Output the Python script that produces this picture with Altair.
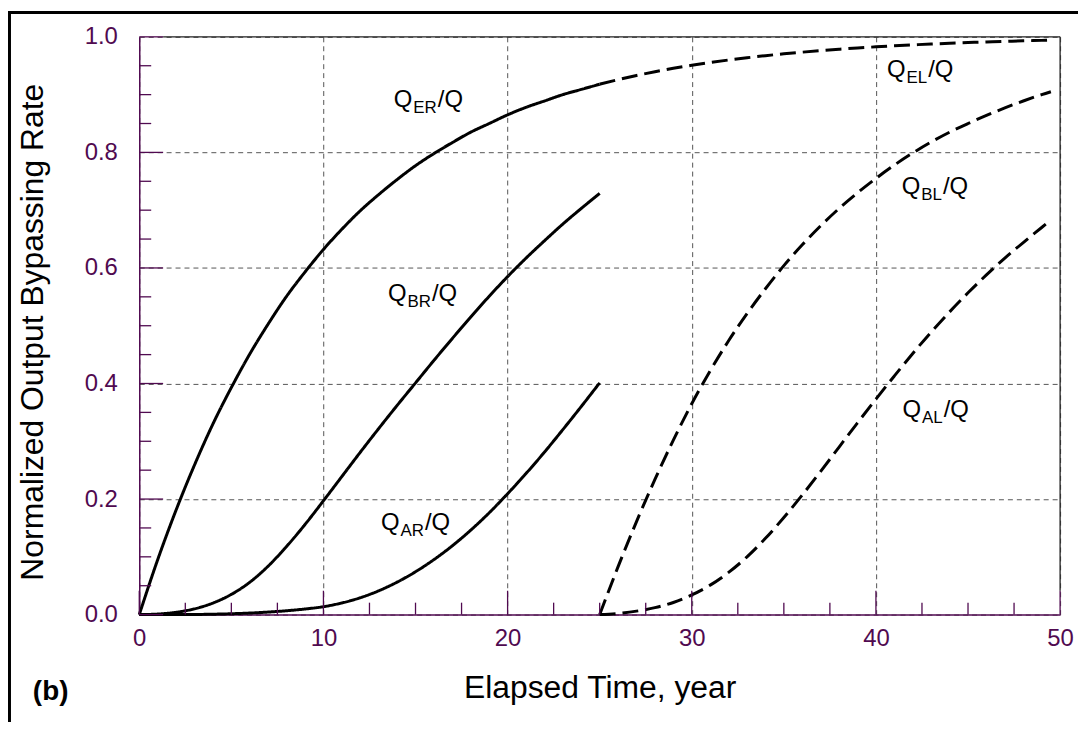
import altair as alt
import pandas as pd

# ---------------- data ----------------
t_R = list(range(0, 26))
E_R = [0.0, 0.095, 0.181, 0.259, 0.330, 0.393, 0.451, 0.503, 0.551, 0.593, 0.632,
       0.667, 0.699, 0.727, 0.753, 0.777, 0.798, 0.817, 0.835, 0.850, 0.865,
       0.878, 0.889, 0.900, 0.909, 0.918]
B_R = [0.0, 0.001, 0.004, 0.010, 0.020, 0.035, 0.056, 0.084, 0.118, 0.156, 0.197,
       0.239, 0.281, 0.322, 0.362, 0.401, 0.440, 0.478, 0.515, 0.551, 0.585,
       0.617, 0.647, 0.676, 0.703, 0.729]
A_R = [0.0, 0.0, 0.0, 0.0002, 0.0007, 0.0015, 0.0027, 0.0044, 0.0067, 0.0097, 0.0137,
       0.0202, 0.0292, 0.0412, 0.0562, 0.0742, 0.0952, 0.1192, 0.1462, 0.1762, 0.2092,
       0.2442, 0.2812, 0.3202, 0.3602, 0.4012]

t_L = [25, 26, 27, 28, 29, 30, 31, 32, 33, 34, 35, 36, 37, 38, 39, 40, 41, 42,
       43, 44, 45, 46, 47, 48, 49, 49.5]
E_L = [0.918, 0.9259, 0.9331, 0.9396, 0.9455, 0.9508, 0.9556, 0.9599, 0.9638, 0.9674,
       0.9706, 0.9735, 0.9761, 0.9785, 0.9807, 0.9827, 0.9845, 0.9861, 0.9876, 0.9889,
       0.9901, 0.9912, 0.9922, 0.9931, 0.9939, 0.9943]
B_L = [0.0, 0.083, 0.161, 0.234, 0.302, 0.365, 0.422, 0.474, 0.521, 0.564,
       0.604, 0.640, 0.673, 0.703, 0.730, 0.755, 0.778, 0.799, 0.818, 0.835,
       0.850, 0.864, 0.877, 0.889, 0.900, 0.905]
A_L = [0.0, 0.002, 0.006, 0.012, 0.021, 0.034, 0.051, 0.073, 0.100, 0.132,
       0.168, 0.207, 0.248, 0.290, 0.332, 0.373, 0.413, 0.452, 0.489, 0.524,
       0.557, 0.588, 0.617, 0.644, 0.670, 0.683]

# curve labels: Q<sub>/Q
lab_sub = ["ER", "BR", "AR", "EL", "BL", "AL"]
lab_t = [13.82, 13.5, 13.12, 40.6, 41.4, 41.44]
lab_v = [0.878, 0.543, 0.146, 0.931, 0.728, 0.342]

x_major = [0, 10, 20, 30, 40, 50]
y_major = [0.0, 0.2, 0.4, 0.6, 0.8, 1.0]
x_minor = [i * 2.5 for i in range(21) if (i * 2.5) % 10 != 0]
y_minor = [round(i * 0.05, 2) for i in range(21) if i % 4 != 0]

# ---------------- layout constants ----------------
W, H = 926, 581
PAD_R = 18
PURPLE = "#500a50"
FONT = "Liberation Sans"
PX_PER_T = W / 50.0

rows = []
for name, ts, vs, style in [("E_R", t_R, E_R, "solid"), ("B_R", t_R, B_R, "solid"),
                            ("A_R", t_R, A_R, "solid"), ("E_L", t_L, E_L, "dashed"),
                            ("B_L", t_L, B_L, "dashed"), ("A_L", t_L, A_L, "dashed")]:
    for t, v in zip(ts, vs):
        rows.append({"t": t, "v": v, "series": name, "style": style})
curves = pd.DataFrame(rows)

# text pieces of the labels (subscript placed after "Q", "/Q" after subscript)
MAIN_FS, SUB_FS = 24, 17
cw = {"E": 0.667, "R": 0.722, "B": 0.667, "A": 0.667, "L": 0.556}
q_w = 0.778 * MAIN_FS
lab_q_df = pd.DataFrame({"t": lab_t, "v": lab_v})
lab_s_df = pd.DataFrame({
    "t": [t + (q_w + 1.0) / PX_PER_T for t in lab_t], "v": lab_v, "sub": lab_sub})
lab_t_df = pd.DataFrame({
    "t": [t + (q_w + 2.0 + sum(cw[c] for c in s) * SUB_FS) / PX_PER_T
          for t, s in zip(lab_t, lab_sub)], "v": lab_v})

xscale = alt.Scale(domain=[0, 50], nice=False, zero=False)
yscale = alt.Scale(domain=[0, 1], nice=False, zero=False)

X = lambda: alt.X("t:Q", scale=xscale)
Y = lambda: alt.Y("v:Q", scale=yscale)

lines = alt.Chart(curves).mark_line(color="black", strokeWidth=3, interpolate="monotone").encode(
    x=alt.X("t:Q", scale=xscale,
            axis=alt.Axis(values=x_major, format="d", grid=True, labelPadding=31,
                          labelBaseline="alphabetic", labelFlush=False, labelOverlap=False,
                          title="Elapsed Time, year", titleX=W / 2, titleY=83,
                          titleBaseline="alphabetic", titleAlign="center")),
    y=alt.Y("v:Q", scale=yscale,
            axis=alt.Axis(values=y_major, format=".1f", grid=True, labelPadding=22,
                          labelFlush=False, labelOverlap=False,
                          title="Normalized Output Bypassing Rate", titleX=-97, titleY=H / 2 + 6,
                          titleAngle=270, titleBaseline="alphabetic", titleAlign="center")),
    detail="series:N",
    strokeDash=alt.StrokeDash("style:N", scale=alt.Scale(domain=["solid", "dashed"],
                                                         range=[[1, 0], [16, 7]]), legend=None),
)

# inward ticks
xt_major = alt.Chart(pd.DataFrame({"t": x_major})).mark_rule(color=PURPLE, strokeWidth=1.3).encode(
    x=X(), y=alt.value(H), y2=alt.value(H - 24))
xt_minor = alt.Chart(pd.DataFrame({"t": x_minor})).mark_rule(color=PURPLE, strokeWidth=1.3).encode(
    x=X(), y=alt.value(H), y2=alt.value(H - 12))
yt_major = alt.Chart(pd.DataFrame({"v": y_major})).mark_rule(color=PURPLE, strokeWidth=1.3).encode(
    y=Y(), x=alt.value(0), x2=alt.value(24))
yt_minor = alt.Chart(pd.DataFrame({"v": y_minor})).mark_rule(color=PURPLE, strokeWidth=1.3).encode(
    y=Y(), x=alt.value(0), x2=alt.value(12))

one = alt.Data(values=[{"a": 1}])
top_border = alt.Chart(one).mark_rule(color="#222", strokeWidth=1.3).encode(
    x=alt.value(24), x2=alt.value(W), y=alt.value(0))
right_border = alt.Chart(one).mark_rule(color="#222", strokeWidth=1.3).encode(
    x=alt.value(W), y=alt.value(0), y2=alt.value(H - 24))
frame_top = alt.Chart(one).mark_rule(color="black", strokeWidth=3).encode(
    x=alt.value(-132), x2=alt.value(W + PAD_R), y=alt.value(-24.5))
frame_left = alt.Chart(one).mark_rule(color="black", strokeWidth=3).encode(
    x=alt.value(-130.5), y=alt.value(-26), y2=alt.value(H + 108))

lab_q = alt.Chart(lab_q_df).mark_text(font=FONT, fontSize=MAIN_FS, align="left",
                                      baseline="alphabetic", color="black").encode(
    x=X(), y=Y(), text=alt.value("Q"))
lab_s = alt.Chart(lab_s_df).mark_text(font=FONT, fontSize=SUB_FS, align="left",
                                      baseline="alphabetic", dy=6, color="black").encode(
    x=X(), y=Y(), text="sub:N")
lab_tail = alt.Chart(lab_t_df).mark_text(font=FONT, fontSize=MAIN_FS, align="left",
                                         baseline="alphabetic", color="black").encode(
    x=X(), y=Y(), text=alt.value("/Q"))

panel = alt.Chart(one).mark_text(font=FONT, fontSize=28, fontWeight="bold", align="left",
                                 baseline="alphabetic", color="black").encode(
    x=alt.value(-107), y=alt.value(H + 86), text=alt.value("(b)"))

chart = alt.layer(
    lines, xt_major, xt_minor, yt_major, yt_minor, top_border, right_border,
    frame_top, frame_left, lab_q, lab_s, lab_tail, panel
).properties(
    width=W, height=H,
    autosize=alt.AutoSizeParams(type="none"),
    padding={"left": 132, "top": 27, "right": PAD_R, "bottom": 108},
    background="white",
).configure_axis(
    labelFont=FONT, titleFont=FONT, labelColor=PURPLE, titleColor="black",
    labelFontSize=24, titleFontSize=32, titleFontWeight="normal",
    domainColor=PURPLE, domainWidth=1.5, ticks=False, tickSize=0,
    gridColor="#555", gridDash=[5, 4], gridWidth=1,
).configure_view(stroke=None)

chart.save("out.html", embed_options={"renderer": "svg", "actions": False})
